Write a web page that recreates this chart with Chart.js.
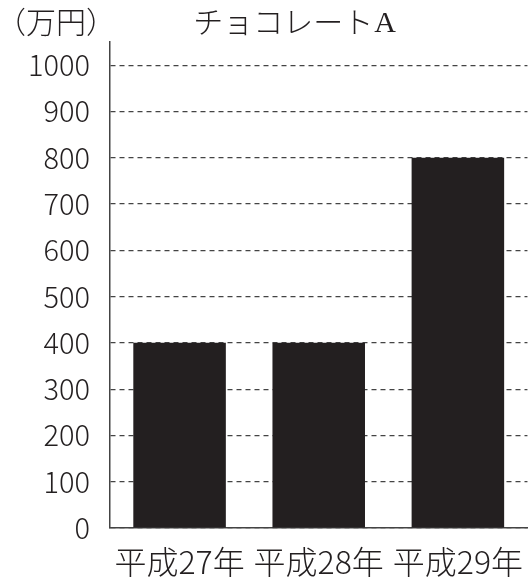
<!DOCTYPE html>
<html>
<head>
<meta charset="utf-8">
<script src="https://cdn.jsdelivr.net/npm/chart.js@4"></script>
<style>
html,body{margin:0;padding:0;background:#fff;}
#wrap{width:530px;height:578px;}
</style>
</head>
<body>
<div id="wrap"><canvas id="c" width="530" height="578"></canvas></div>
<script>
const categories = ['平成27年', '平成28年', '平成29年'];
const salesValues = [400, 400, 800];
const yTickValues = [0, 100, 200, 300, 400, 500, 600, 700, 800, 900, 1000];
const titleMain = 'チョコレート';
const titleSuffix = 'A';
const unitLabel = '（万円）';

const ink = '#231f20';
const sans = "'Noto Sans CJK JP', 'Noto Sans', sans-serif";

const headerPlugin = {
  id: 'header',
  afterDraw(chart) {
    const ctx = chart.ctx;
    const area = chart.chartArea;
    ctx.save();
    ctx.fillStyle = ink;
    ctx.textBaseline = 'middle';
    ctx.font = '300 30px ' + sans;
    ctx.textAlign = 'left';
    ctx.fillText(unitLabel, area.left - 114, 22);
    // title
    const mainFont = '300 30px ' + sans;
    const serifFont = '30px "Liberation Serif", "DejaVu Serif", serif';
    ctx.font = mainFont;
    const w1 = ctx.measureText(titleMain).width;
    ctx.font = serifFont;
    const w2 = ctx.measureText(titleSuffix).width;
    const cx = 294;
    const x0 = cx - (w1 + w2) / 2;
    ctx.font = mainFont;
    ctx.fillText(titleMain, x0, 22);
    ctx.font = serifFont;
    ctx.fillText(titleSuffix, x0 + w1 + 1, 24);
    ctx.restore();
  }
};

new Chart(document.getElementById('c'), {
  type: 'bar',
  data: {
    labels: categories,
    datasets: [{
      data: salesValues,
      backgroundColor: ink,
      borderWidth: 0,
      categoryPercentage: 1,
      barPercentage: 0.665
    }]
  },
  plugins: [headerPlugin],
  options: {
    responsive: false,
    animation: false,
    devicePixelRatio: 1,
    layout: { padding: { top: 42, right: 0, left: 1, bottom: 0 } },
    plugins: { legend: { display: false }, tooltip: { enabled: false }, title: { display: false } },
    scales: {
      x: {
        grid: { display: false },
        border: { display: true, color: '#444', width: 1.5 },
        ticks: { color: ink, font: { family: sans, size: 32, weight: 300 }, padding: 7, maxRotation: 0, autoSkip: false },
        afterFit(scale) { scale.height = 50; }
      },
      y: {
        min: 0,
        max: 1050,
        afterBuildTicks(scale) { scale.ticks = yTickValues.map(v => ({ value: v })); },
        grid: { color: '#444', lineWidth: 1.2, drawTicks: false },
        border: { display: true, color: '#444', width: 1.5, dash: [5, 4] },
        ticks: { color: ink, font: { family: sans, size: 29, weight: 300 }, padding: 20, callback: v => String(v) },
        afterFit(scale) { scale.width = 109; }
      }
    }
  }
});
</script>
</body>
</html>
